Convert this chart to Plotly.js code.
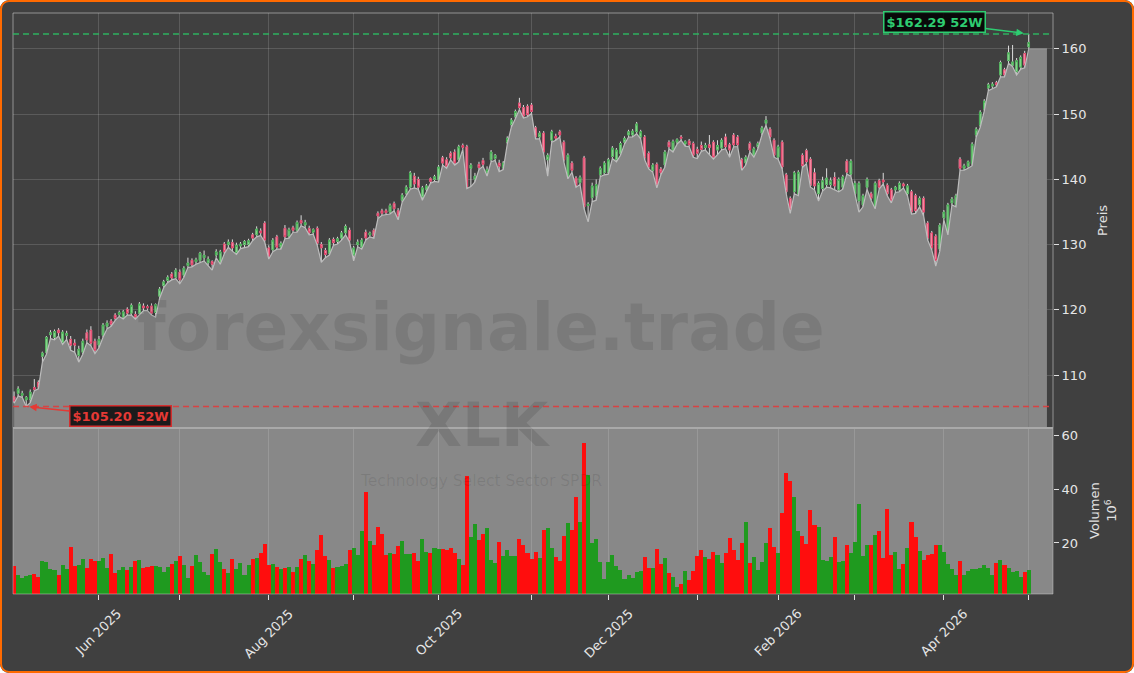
<!DOCTYPE html>
<html>
<head>
<meta charset="utf-8">
<script src="https://cdn.plot.ly/plotly-3.0.1.min.js"></script>
<style>
  html, body { margin: 0; padding: 0; background: #ffffff; }
  #wrap { position: relative; width: 1134px; height: 673px; overflow: hidden; border-radius: 9px; }
  #chart { width: 1134px; height: 673px; }
  #frame { position: absolute; left: 0; top: 0; width: 1134px; height: 673px; box-sizing: border-box;
           border: 2.5px solid #ff6a00; border-radius: 9px; pointer-events: none; }
</style>
</head>
<body>
<div id="wrap"><div id="chart"></div><div id="frame"></div></div>
<script>
// ---------- DATA ----------
const ticker = 'XLK';
const tickerName = 'Technology Select Sector SPDR';
const watermark = 'forexsignale.trade';
const startDate = '2025-05-01';
const endDate = '2026-05-01';
const holidays = ['2025-05-26','2025-06-19','2025-07-04','2025-09-01','2025-11-27','2025-12-25',
                  '2026-01-01','2026-01-19','2026-02-16','2026-04-03'];
const tickLabels = ['Jun 2025','','Aug 2025','','Oct 2025','','Dec 2025','','Feb 2026','','Apr 2026',''];
const priceTicks = [110,120,130,140,150,160];
const volumeTicks = [20,40,60];

const O = [
106.7,107.2,106.9,106.2,106.3,108.1,108.9,112.9,113.5,116.2,115.8,116.9,115.0,116.1,115.5,114.9,113.0,113.5,116.5,116.9,115.2,
114.6,116.1,117.5,118.3,119.2,119.3,118.9,120.1,119.5,119.3,119.5,120.6,120.5,120.6,119.6,122.1,123.7,124.5,125.5,125.0,
125.8,125.3,126.8,127.6,127.4,127.6,128.0,127.2,127.4,128.4,127.3,130.1,130.0,130.3,128.8,129.8,130.0,130.0,131.5,131.5,132.1,133.3,
129.5,129.2,131.2,129.6,132.5,131.3,132.6,132.2,133.7,133.0,132.5,131.9,132.5,130.0,129.1,128.7,130.8,130.5,131.0,131.8,132.2,
128.4,130.0,129.6,131.9,131.5,132.2,134.8,135.2,135.2,135.0,136.3,135.2,136.8,137.9,138.8,140.5,140.0,137.3,138.5,140.1,140.0,
139.9,143.3,143.0,144.0,144.2,143.0,145.2,145.0,141.7,140.0,142.3,142.9,141.0,143.0,143.2,142.5,141.8,145.7,148.4,149.6,151.7,151.0,151.2,
151.4,147.9,146.5,147.1,143.0,146.0,146.6,147.3,145.7,140.4,142.5,140.2,139.5,143.3,136.0,137.2,137.5,140.7,141.0,
141.1,143.5,143.0,144.0,145.7,146.8,146.8,147.3,146.5,146.5,144.0,141.4,142.3,141.6,142.2,145.7,144.5,145.7,146.5,145.4,145.9,145.5,
144.6,145.2,144.9,145.3,145.7,144.5,144.8,146.5,145.3,146.8,146.5,143.0,142.5,145.5,143.7,145.0,147.1,148.6,147.7,146.0,
143.4,145.7,140.7,137.1,138.1,137.8,143.7,144.4,143.1,141.0,137.8,138.6,139.2,139.2,140.3,138.4,138.8,142.8,140.8,
137.8,136.7,136.1,138.8,137.8,135.8,139.8,139.9,139.1,138.4,138.4,138.4,139.3,137.8,138.1,137.5,136.1,137.1,133.3,131.8,131.3,129.3,
134.1,131.8,136.4,136.1,143.1,141.7,142.0,142.4,146.8,148.3,150.8,154.0,154.3,154.8,156.0,156.8,158.2,157.5,156.5,157.2,159.3,160.3
];
const H = [
107.5,108.3,107.6,106.8,107.8,109.4,109.2,113.6,116.0,116.9,117.0,117.2,116.9,116.8,116.0,115.5,114.5,115.6,117.0,117.5,115.6,
116.0,118.0,118.4,118.6,119.5,119.9,120.0,120.4,121.0,119.8,121.2,121.0,120.8,121.0,121.0,123.5,124.6,125.3,125.8,126.4,
126.2,126.7,128.0,127.9,128.0,128.9,129.1,128.2,127.6,129.3,129.2,130.4,130.8,130.8,130.3,130.4,130.7,130.9,131.8,132.8,132.5,133.6,
129.9,131.0,131.5,130.5,133.0,132.6,132.9,133.7,134.5,133.8,132.9,132.5,132.8,130.4,129.5,131.0,131.1,131.2,132.1,133.1,132.6,
129.8,130.8,131.0,132.3,132.0,132.5,135.1,135.5,135.5,136.3,136.6,135.6,137.9,139.1,141.3,141.0,140.4,139.0,139.3,140.3,140.7,
142.2,143.6,143.4,144.3,144.6,145.3,145.5,145.3,142.5,141.0,142.7,143.3,142.0,144.5,143.9,143.0,142.8,146.6,149.4,150.7,152.5,151.4,151.5,
151.7,148.2,147.4,147.4,144.0,147.6,147.0,147.6,146.0,144.0,142.8,140.5,140.6,143.6,136.5,139.5,140.0,142.0,142.8,
143.3,145.1,144.8,145.8,146.6,147.6,147.7,148.8,147.6,146.8,144.3,142.5,142.6,141.9,144.5,146.0,146.1,146.3,146.8,146.0,146.2,145.8,
145.0,145.8,145.6,146.8,146.0,146.0,146.3,147.0,145.6,147.1,146.8,143.3,143.7,145.8,145.0,145.8,148.2,149.7,148.0,146.3,
145.3,146.0,141.0,137.4,141.3,141.4,144.0,144.7,143.4,141.7,139.7,140.4,141.7,140.3,141.1,140.3,140.7,143.1,143.1,
139.8,139.7,137.8,140.3,138.1,139.7,140.1,141.0,139.4,138.7,139.0,139.7,139.5,139.3,138.4,137.8,137.4,137.4,133.6,132.1,131.6,133.3,
135.3,136.4,137.3,137.8,143.4,142.4,142.9,145.7,148.0,150.6,152.3,154.8,154.9,155.1,158.2,157.1,160.5,160.6,158.6,159.0,159.7,162.29
];
const L = [
105.7,106.8,106.6,105.2,105.8,107.6,107.9,112.0,113.2,115.6,115.4,116.0,114.7,115.5,113.8,113.5,112.0,113.2,115.0,114.5,113.3,
114.2,115.8,117.1,117.5,118.4,119.0,118.6,119.2,119.2,118.6,119.2,119.9,119.9,119.2,118.9,121.8,123.4,124.2,124.6,124.8,
124.0,125.0,126.5,126.6,127.0,127.3,127.5,126.8,126.1,128.0,127.0,128.6,129.6,129.0,128.5,129.4,129.6,129.7,130.6,131.2,131.4,130.4,
127.8,128.9,129.3,129.3,130.9,131.0,131.9,131.9,132.9,132.6,131.5,131.6,129.9,127.3,128.0,128.4,129.9,130.1,130.7,131.5,130.4,
127.5,129.7,129.3,130.7,131.2,131.0,134.0,134.5,134.6,134.7,135.2,133.8,136.5,137.6,138.5,138.7,138.5,136.8,138.2,139.4,139.7,
139.6,142.2,141.7,143.0,142.2,142.7,144.6,138.6,138.9,139.6,141.5,142.0,140.5,142.7,142.9,141.2,141.5,145.4,148.0,149.3,150.7,149.4,149.6,
150.1,146.2,146.2,143.9,140.5,145.7,146.0,146.5,142.7,140.1,141.1,138.8,139.2,135.5,133.5,136.6,136.8,140.4,140.7,
140.8,143.2,142.7,143.7,145.4,146.5,146.5,147.0,146.2,143.0,141.6,141.1,138.7,140.7,141.9,144.7,144.2,145.4,146.0,145.1,145.0,143.4,
143.2,144.3,144.5,143.8,143.1,143.8,144.5,144.7,143.4,145.0,145.0,141.4,142.2,144.2,143.4,144.7,146.8,148.3,146.2,143.4,
143.1,141.6,137.8,134.8,137.8,137.5,141.8,142.4,138.8,138.4,136.7,138.2,138.8,138.7,138.4,138.1,138.5,140.8,140.5,
137.5,135.0,135.8,138.5,136.8,135.5,138.5,139.3,137.5,136.4,138.0,138.1,138.7,137.5,134.7,134.8,135.8,134.4,130.7,129.2,126.7,129.0,
133.8,131.5,136.1,135.8,141.4,141.4,141.7,142.1,146.5,148.0,150.5,153.6,153.9,154.2,155.7,155.7,157.8,157.3,156.0,156.9,157.1,160.0
];
const C = [
106.0,107.9,107.2,106.6,107.4,107.8,108.2,113.4,115.8,116.5,116.7,116.5,116.6,116.4,114.6,114.6,114.0,115.2,115.4,114.9,113.8,
115.5,117.7,118.0,117.8,118.7,119.6,119.7,119.5,120.7,118.9,120.9,120.3,120.3,119.5,120.8,123.2,124.3,125.0,124.9,126.1,
124.6,126.4,127.2,126.9,127.7,128.7,128.4,127.8,127.0,128.9,128.9,128.9,130.4,129.5,129.9,130.1,130.5,130.6,131.0,132.4,131.8,130.7,
128.1,130.7,129.6,130.2,131.2,132.3,132.2,133.4,133.3,133.4,131.8,132.3,130.2,129.5,128.5,130.7,130.3,130.9,131.8,132.8,130.7,
129.5,130.4,130.7,131.0,131.8,131.3,134.4,134.8,134.9,136.0,135.5,134.3,137.6,138.8,141.0,139.3,138.8,138.7,139.0,139.7,140.4,
141.9,142.5,142.0,143.3,142.5,145.0,144.9,138.8,142.2,140.5,141.8,142.3,141.5,144.2,143.7,142.0,142.5,146.3,149.1,150.4,151.0,149.7,149.9,
150.4,146.5,147.1,144.2,143.7,147.3,146.3,146.8,143.0,143.7,141.4,139.1,140.3,135.8,136.2,139.0,139.2,141.7,142.5,
143.0,144.8,144.5,145.5,146.3,147.3,147.4,148.5,147.3,143.3,141.9,142.2,139.0,141.0,144.2,145.0,145.8,146.1,146.3,145.8,145.3,143.7,
144.0,144.6,145.2,144.9,143.4,145.2,146.0,145.0,144.5,145.3,145.3,141.7,143.4,144.5,144.7,145.5,147.9,149.1,146.5,143.7,
145.0,141.9,138.1,135.3,141.0,141.1,142.1,142.7,139.1,139.0,139.4,139.8,140.2,139.8,139.0,140.0,140.4,141.1,142.8,
139.4,139.4,137.5,140.0,137.1,139.4,138.8,139.6,137.8,136.7,138.8,139.4,139.0,139.0,135.0,135.2,137.1,135.0,131.0,129.5,127.6,133.0,
135.0,136.1,137.0,137.5,141.7,142.1,142.7,145.4,147.7,150.3,152.0,154.5,154.6,154.5,157.9,156.0,159.4,158.0,158.2,158.7,157.5,161.0
];
const V = [
11.5,8.1,7.0,7.8,8.1,8.5,7.4,13.3,13.0,10.4,9.9,8.1,11.8,10.4,18.6,11.5,11.8,14.0,10.9,14.2,13.5,
13.2,14.6,10.9,15.9,8.9,9.9,11.2,9.9,11.2,13.3,13.7,10.6,11.2,11.5,11.5,11.2,9.3,11.2,12.2,13.3,
15.2,11.8,7.0,11.5,15.5,13.0,9.3,8.1,16.0,17.8,13.0,10.4,9.0,14.0,10.4,12.5,8.3,12.0,14.0,14.5,16.3,19.6,
12.0,12.2,11.1,10.4,10.7,11.1,9.3,11.1,14.1,15.5,13.3,12.2,17.4,23.0,15.2,13.7,10.7,11.1,11.5,12.2,17.4,
18.1,15.5,24.4,38.9,20.7,19.3,25.9,23.3,15.5,16.3,15.9,18.9,20.7,15.9,15.9,16.3,13.3,21.4,16.7,16.3,18.1,
17.8,17.8,17.4,18.1,16.3,14.1,11.9,44.8,22.2,27.0,21.1,23.3,25.6,13.7,12.6,20.4,15.2,17.4,15.2,15.2,21.4,19.3,16.3,
14.1,16.6,14.4,24.8,25.4,18.1,14.8,13.3,22.6,27.4,24.8,37.0,27.8,57.0,45.2,20.0,21.4,13.0,6.6,
13.0,15.5,11.5,10.0,6.6,8.1,6.9,9.2,9.7,14.8,10.7,10.7,17.8,12.2,14.4,8.9,7.4,3.7,4.8,9.6,6.3,9.6,
15.1,17.4,14.8,14.1,16.8,15.5,12.6,16.3,22.0,17.4,13.7,20.0,27.8,12.6,14.8,10.0,13.0,20.0,25.6,18.5,
16.3,31.0,45.9,43.0,37.0,24.4,22.6,19.6,32.2,26.7,25.9,13.7,13.3,14.8,22.2,13.0,13.3,19.3,16.3,
20.4,34.4,15.2,19.3,19.3,23.0,24.4,14.4,32.6,15.5,16.7,10.4,12.2,18.1,27.8,22.2,17.0,13.7,15.5,15.9,19.3,19.3,
16.7,12.2,10.4,8.1,13.3,8.1,9.6,10.4,10.2,10.7,11.8,10.7,8.1,12.6,13.7,11.8,10.7,9.2,9.6,7.4,9.2,10.0
];

// ---------- derived ----------
function tradingDays(s, e, hol) {
  const out = []; const hs = new Set(hol);
  let d = new Date(s + 'T00:00:00Z'); const end = new Date(e + 'T00:00:00Z');
  while (d <= end) {
    const wd = d.getUTCDay(); const iso = d.toISOString().slice(0, 10);
    if (wd !== 0 && wd !== 6 && !hs.has(iso)) out.push(iso);
    d = new Date(d.getTime() + 86400000);
  }
  return out;
}
const dates = tradingDays(startDate, endDate, holidays);
const idx = O.map((_, i) => i);
const tickPos = [];
for (let i = 1; i < dates.length; i++) if (dates[i].slice(0, 7) !== dates[i - 1].slice(0, 7)) tickPos.push(i);

const bodyHi = O.map((o, i) => Math.max(o, C[i]));
const bodyLo = O.map((o, i) => Math.min(o, C[i]));
const volColors = O.map((o, i) => C[i] >= o ? '#1f9a1f' : '#ff0d0d');

const hiVal = Math.max(...H), hiIdx = H.indexOf(hiVal);
const loVal = Math.min(...L), loIdx = L.indexOf(loVal);
const lastI = L.length - 1;

const UPF = '#b4ecb4', UPL = '#37a845', DNF = '#ffc0cc', DNL = '#e0305a', WICK = '#dcdcdc';
const FILL = '#878787';
const volTop = 0.2857;
const FONT = 'DejaVu Sans';

const traces = [
  { type: 'scatter', x: idx, y: L, mode: 'lines', fill: 'tozeroy', fillcolor: FILL,
    line: { color: '#bdbdbd', width: 1.2 }, hoverinfo: 'skip', xaxis: 'x', yaxis: 'y' },
  { type: 'scatter', x: [lastI, lastI + 4.5], y: [L[lastI], L[lastI]], mode: 'lines', fill: 'tozeroy',
    fillcolor: FILL, line: { color: '#9a9a9a', width: 1 }, hoverinfo: 'skip', xaxis: 'x', yaxis: 'y' },
  { type: 'candlestick', x: idx, open: O, high: H, low: L, close: C, xaxis: 'x', yaxis: 'y',
    increasing: { line: { color: WICK, width: 1 }, fillcolor: UPF },
    decreasing: { line: { color: WICK, width: 1 }, fillcolor: DNF }, hoverinfo: 'skip' },
  { type: 'candlestick', x: idx, open: O, high: bodyHi, low: bodyLo, close: C, xaxis: 'x', yaxis: 'y',
    increasing: { line: { color: UPL, width: 0.9 }, fillcolor: UPF },
    decreasing: { line: { color: DNL, width: 0.9 }, fillcolor: DNF }, hoverinfo: 'skip' },
  { type: 'bar', x: idx, y: V, width: 1, marker: { color: volColors, line: { width: 0 } },
    xaxis: 'x', yaxis: 'y2', hoverinfo: 'skip' }
];

const tickFont = { family: FONT, size: 13, color: '#e6e6e6' };

const annotations = [
  { xref: 'paper', yref: 'paper', x: 0.45, y: 0.458, text: watermark, showarrow: false,
    font: { family: FONT, size: 66, color: 'rgba(0,0,0,0.09)', weight: 'bold' } },
  { xref: 'paper', yref: 'paper', x: 0.452, y: 0.227, text: ticker, showarrow: false,
    font: { family: FONT, size: 61, color: 'rgba(0,0,0,0.11)', weight: 'bold' } },
  { xref: 'paper', yref: 'paper', x: 0.45, y: 0.176, text: tickerName, showarrow: false,
    font: { family: FONT, size: 15.5, color: 'rgba(0,0,0,0.09)' } },
  { xref: 'x', yref: 'y', x: hiIdx, y: hiVal, text: '$' + hiVal.toFixed(2) + ' 52W',
    showarrow: true, ax: -94, ay: -12, arrowhead: 2, arrowsize: 1, arrowwidth: 1.5,
    arrowcolor: '#2ecc71', standoff: 5,
    font: { family: FONT, size: 13, color: '#2ecc71', weight: 'bold' },
    bgcolor: 'rgba(0,0,0,0.85)', bordercolor: '#2ecc71', borderwidth: 1.5, borderpad: 2 },
  { xref: 'x', yref: 'y', x: loIdx, y: loVal, text: '$' + loVal.toFixed(2) + ' 52W',
    showarrow: true, ax: 94, ay: 10, arrowhead: 2, arrowsize: 1, arrowwidth: 1.5,
    arrowcolor: '#e53935', standoff: 3,
    font: { family: FONT, size: 13, color: '#e53935', weight: 'bold' },
    bgcolor: 'rgba(15,15,15,0.9)', bordercolor: '#d32f2f', borderwidth: 1.5, borderpad: 2 },
  { xref: 'paper', yref: 'paper', x: 1.0481, y: 0.642, xanchor: 'center', yanchor: 'middle',
    text: 'Preis', showarrow: false, textangle: -90, font: { family: FONT, size: 13, color: '#e0e0e0' } },
  { xref: 'paper', yref: 'paper', x: 1.0481, y: 0.143, xanchor: 'center', yanchor: 'middle',
    text: 'Volumen<br>10<sup>6</sup>', showarrow: false, textangle: -90,
    font: { family: FONT, size: 13, color: '#e0e0e0' } }
];
// x tick labels: rotated 45°, centred under their tick
tickPos.forEach((p, k) => {
  if (tickLabels[k]) annotations.push({ xref: 'x', yref: 'paper', x: p, y: -0.0155,
    xanchor: 'center', yanchor: 'top', textangle: -45, text: tickLabels[k], showarrow: false,
    font: tickFont });
});

const layout = {
  width: 1134, height: 673,
  margin: { l: 13, r: 81, t: 13, b: 79, pad: 0 },
  paper_bgcolor: '#404040', plot_bgcolor: '#404040',
  showlegend: false, hovermode: false, bargap: 0, boxgap: 0.45,
  xaxis: { range: [-0.27, 257.0], anchor: 'y2', tickvals: tickPos, showticklabels: false,
    ticks: 'outside', ticklen: 5, tickcolor: '#e0e0e0', tickwidth: 1,
    showgrid: true, gridcolor: 'rgba(255,255,255,0.14)', gridwidth: 1,
    zeroline: false, showline: false, rangeslider: { visible: false } },
  yaxis: { domain: [volTop, 1], range: [101.9, 165.5], side: 'right', anchor: 'x',
    tickvals: priceTicks, ticks: 'outside', ticklen: 5, tickcolor: '#e0e0e0',
    tickfont: tickFont, showgrid: true, gridcolor: 'rgba(255,255,255,0.14)', zeroline: false },
  yaxis2: { domain: [0, volTop], range: [1.1, 62.6], side: 'right', anchor: 'x',
    tickvals: volumeTicks, ticks: 'outside', ticklen: 5, tickcolor: '#e0e0e0',
    tickfont: tickFont, showgrid: false, zeroline: false },
  shapes: [
    { type: 'rect', xref: 'paper', yref: 'paper', x0: 0, x1: 1, y0: 0, y1: volTop,
      fillcolor: '#888888', line: { width: 0 }, layer: 'between' },
    { type: 'rect', xref: 'paper', yref: 'paper', x0: 0, x1: 1, y0: volTop, y1: 1,
      line: { color: 'rgba(215,215,215,0.55)', width: 1 }, layer: 'above' },
    { type: 'rect', xref: 'paper', yref: 'paper', x0: 0, x1: 1, y0: 0, y1: volTop,
      line: { color: 'rgba(215,215,215,0.45)', width: 1 }, layer: 'above' },
    { type: 'line', xref: 'paper', yref: 'paper', x0: 0, x1: 1, y0: volTop, y1: volTop,
      line: { color: '#a9a9a9', width: 2 }, layer: 'above' },
    { type: 'line', xref: 'paper', yref: 'y', x0: 0, x1: 1, y0: hiVal, y1: hiVal,
      line: { color: 'rgba(46,190,100,0.9)', width: 1.4, dash: '6px,4px' }, layer: 'above' },
    { type: 'line', xref: 'paper', yref: 'y', x0: 0, x1: 1, y0: loVal, y1: loVal,
      line: { color: 'rgba(225,60,60,0.9)', width: 1.4, dash: '6px,4px' }, layer: 'above' }
  ],
  annotations: annotations
};

Plotly.newPlot('chart', traces, layout, { displayModeBar: false, staticPlot: true });
</script>
</body>
</html>
